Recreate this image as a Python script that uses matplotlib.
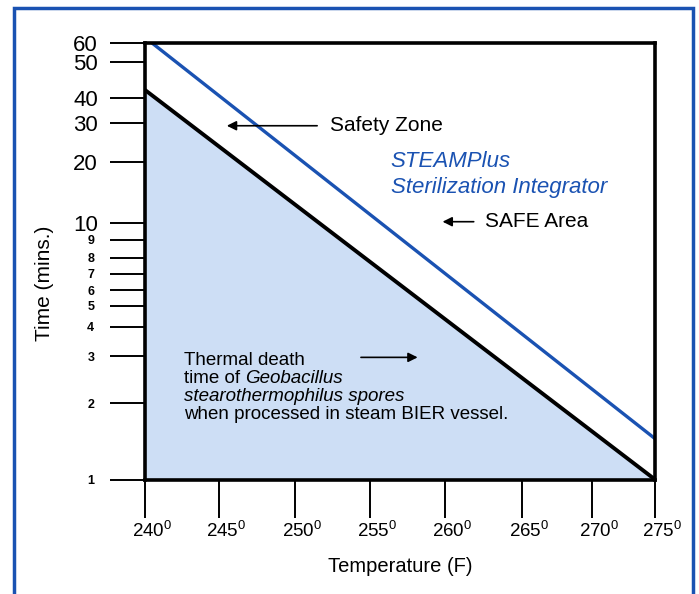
import matplotlib
matplotlib.use("Agg")
import numpy as np
import matplotlib.pyplot as plt
from matplotlib.patches import Rectangle
from matplotlib.ticker import FixedLocator, NullLocator

plt.rcParams['font.family'] = ['Liberation Sans', 'DejaVu Sans']
plt.rcParams['mathtext.fontset'] = 'custom'
plt.rcParams['mathtext.rm'] = 'Liberation Sans'

# ---- data ----
temps = [240, 275]
thermal_death = [42, 1]          # black line (minutes)
integrator_temps = [240.5, 275]
integrator = [60, 1.45]          # blue line (minutes)
x_ticks = [240, 245, 250, 255, 260, 265, 270, 275]
y_ticks = [1, 2, 3, 4, 5, 6, 7, 8, 9, 10, 20, 30, 40, 50, 60]
y_big = [10, 20, 30, 40, 50, 60]

# ---- hand-drawn axis calibration (fraction of axis length at each tick) ----
x_scale_frac = [0, 0.145, 0.294, 0.441, 0.588, 0.739, 0.876, 1.0]
y_scale_frac = [0, 0.1747, 0.2831, 0.3503, 0.3978, 0.4344, 0.4718, 0.5085,
                0.5497, 0.5887, 0.7286, 0.8166, 0.8753, 0.9564, 1.0]
ylog = np.log10(y_ticks)


def y_fwd(v):
    v = np.asarray(v, dtype=float)
    with np.errstate(divide='ignore', invalid='ignore'):
        lv = np.log10(np.clip(v, 1e-3, None))
    return np.interp(lv, ylog, y_scale_frac, left=-1, right=2)


def y_inv(f):
    return 10 ** np.interp(np.asarray(f, dtype=float), y_scale_frac, ylog)


def x_fwd(t):
    return np.interp(np.asarray(t, dtype=float), x_ticks, x_scale_frac, left=-1, right=2)


def x_inv(f):
    return np.interp(np.asarray(f, dtype=float), x_scale_frac, x_ticks)


fig = plt.figure(figsize=(6.99, 5.94), dpi=100)
ax = fig.add_axes([145/699, 1-479.5/594, 510/699, 436.2/594])
ax.set_xscale('function', functions=(x_fwd, x_inv))
ax.set_yscale('function', functions=(y_fwd, y_inv))

fill_c = '#cddef5'
blue = '#1a52b2'

ax.fill_between(temps, thermal_death, [1, 1], color=fill_c, lw=0, zorder=1)
ax.plot(temps, thermal_death, color='black', lw=2.8, zorder=3, solid_capstyle='butt')
ax.plot(integrator_temps, integrator, color=blue, lw=2.4, zorder=3)

ax.set_xlim(240, 275)
ax.set_ylim(1, 60)
ax.yaxis.set_major_locator(FixedLocator(y_ticks))
ax.yaxis.set_minor_locator(NullLocator())
ax.set_yticklabels([str(v) for v in y_ticks])
ax.xaxis.set_major_locator(FixedLocator(x_ticks))
ax.xaxis.set_minor_locator(NullLocator())
ax.set_xticklabels([])
# x tick labels: number centred on the tick, superscript hanging to the right
for t in x_ticks:
    ax.annotate(r'%d$^{\mathregular{0}}$' % t, xy=(t, 0), xycoords=('data', 'axes fraction'),
                xytext=(5, -29), textcoords='offset points', ha='center', va='top',
                fontsize=13.5, annotation_clip=False)

ax.tick_params(axis='y', direction='out', length=25, width=1.4, pad=9)
ax.tick_params(axis='x', direction='out', length=27, width=1.4, pad=3)
for tick, lab, v in zip(ax.yaxis.get_major_ticks(), ax.get_yticklabels(), y_ticks):
    if v in y_big:
        lab.set_fontsize(16)
    else:
        lab.set_fontsize(9)
        lab.set_fontweight('bold')
        tick.set_pad(11.5)
for s in ax.spines.values():
    s.set_linewidth(2.6)
    s.set_zorder(4)

# annotations (axes-fraction coordinates)
arrow = dict(arrowstyle='-|>', color='black', lw=1.2, mutation_scale=14)
ax.text(0.363, 0.811, 'Safety Zone', fontsize=15, va='center', ha='left', transform=ax.transAxes)
ax.annotate('', xy=(0.155, 0.811), xytext=(0.343, 0.811), xycoords='axes fraction', arrowprops=arrow)
ax.text(0.482, 0.729, 'STEAMPlus', fontsize=16, style='italic', color=blue,
        va='center', ha='left', transform=ax.transAxes)
ax.text(0.482, 0.669, 'Sterilization Integrator', fontsize=16, style='italic', color=blue,
        va='center', ha='left', transform=ax.transAxes)
ax.text(0.667, 0.591, 'SAFE Area', fontsize=15, va='center', ha='left', transform=ax.transAxes)
ax.annotate('', xy=(0.578, 0.591), xytext=(0.650, 0.591), xycoords='axes fraction', arrowprops=arrow)

fs = 13.5
x0 = 0.0765
ax.text(x0, 0.272, 'Thermal death', fontsize=fs, va='center', ha='left', transform=ax.transAxes)
t2 = ax.text(x0, 0.231, 'time of ', fontsize=fs, va='center', ha='left', transform=ax.transAxes)
ax.annotate('Geobacillus', xy=(1, 0.5), xycoords=t2, fontsize=fs, style='italic',
            va='center', ha='left')
ax.text(x0, 0.190, 'stearothermophilus spores', fontsize=fs, style='italic',
        va='center', ha='left', transform=ax.transAxes)
ax.text(x0, 0.149, 'when processed in steam BIER vessel.', fontsize=fs, va='center',
        ha='left', transform=ax.transAxes)
ax.annotate('', xy=(0.54, 0.280), xytext=(0.418, 0.280), xycoords='axes fraction', arrowprops=arrow)

fig.text(400/699, 1-567/594, 'Temperature (F)', fontsize=14.5, ha='center', va='center')
fig.text(45/699, 1-283/594, 'Time (mins.)', fontsize=15, ha='center', va='center', rotation=90)

# outer blue frame (bottom edge runs off the picture)
fig.patches.append(Rectangle((13.5/699, -0.02), 679/699, 1.02 - 8/594, transform=fig.transFigure,
                             fill=False, edgecolor=blue, lw=2.5))

fig.savefig('out.png', dpi=100)
